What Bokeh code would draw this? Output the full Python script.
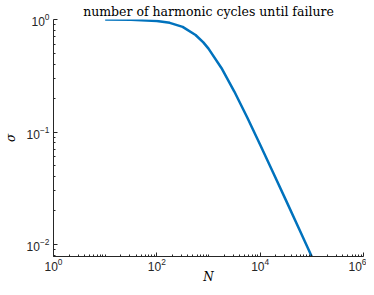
from bokeh.plotting import figure
from bokeh.models import ColumnDataSource, Range1d, FixedTicker
from bokeh.embed import file_html
from bokeh.resources import INLINE

# Values (log-log curve)
N_values = [10, 31.6, 100, 178, 316, 562, 794, 1000, 1778, 3162, 5623,
            10000, 17783, 31623, 56234, 100000]
sigma_values = [0.999, 0.995, 0.971, 0.934, 0.859, 0.728, 0.626, 0.551, 0.371,
                0.229, 0.1346, 0.0772, 0.0437, 0.0247, 0.01389, 0.0078]

x_major_ticks = [1, 1e2, 1e4, 1e6]
x_minor_ticks = [m * 10.0 ** k for k in range(0, 6) for m in range(1, 10)]
y_major_ticks = [1e-2, 1e-1, 1]
y_minor_ticks = [m * 10.0 ** k for k in range(-3, 0) for m in range(2, 10)]

title_text = "number of harmonic cycles until failure"
x_label = "N"
y_label = "σ"

src = ColumnDataSource(data=dict(N=N_values, s=sigma_values))

p = figure(width=366, height=287, output_backend="svg", toolbar_location=None,
           x_axis_type="log", y_axis_type="log",
           x_range=Range1d(1, 1e6), y_range=Range1d(0.00783, 1.0),
           min_border_left=39, min_border_right=3, min_border_top=10,
           min_border_bottom=31)

p.line("N", "s", source=src, line_color="#0072BD", line_width=2.5)

p.title.text = title_text
p.title.text_font = "DejaVu Serif"
p.title.text_font_size = "12.5px"
p.title.text_font_style = "normal"
p.title.align = "center"
p.title.text_color = "#000000"
p.title.standoff = 2

p.outline_line_color = None
p.grid.grid_line_color = None
p.background_fill_color = "white"

for ax in (p.xaxis[0], p.yaxis[0]):
    ax.axis_line_color = "#262626"
    ax.axis_line_width = 1
    ax.major_tick_line_color = "#262626"
    ax.minor_tick_line_color = "#262626"
    ax.major_tick_in = 4
    ax.major_tick_out = 0
    ax.minor_tick_in = 2
    ax.minor_tick_out = 0
    ax.major_label_text_font = "Liberation Sans"
    ax.major_label_text_font_size = "12px"
    ax.major_label_text_color = "#262626"
    ax.axis_label_text_font = "DejaVu Serif"
    ax.axis_label_text_font_style = "italic"
    ax.axis_label_text_font_size = "12px"
    ax.axis_label_text_color = "#000000"

p.xaxis[0].ticker = FixedTicker(ticks=x_major_ticks, minor_ticks=x_minor_ticks)
p.yaxis[0].ticker = FixedTicker(ticks=y_major_ticks, minor_ticks=y_minor_ticks)
p.xaxis.axis_label = x_label
p.yaxis.axis_label = y_label
p.xaxis.major_label_standoff = 1
p.yaxis.major_label_standoff = 4
p.xaxis.axis_label_standoff = -4
p.yaxis.axis_label_standoff = 6

open("out.html", "w").write(file_html(p, INLINE))
